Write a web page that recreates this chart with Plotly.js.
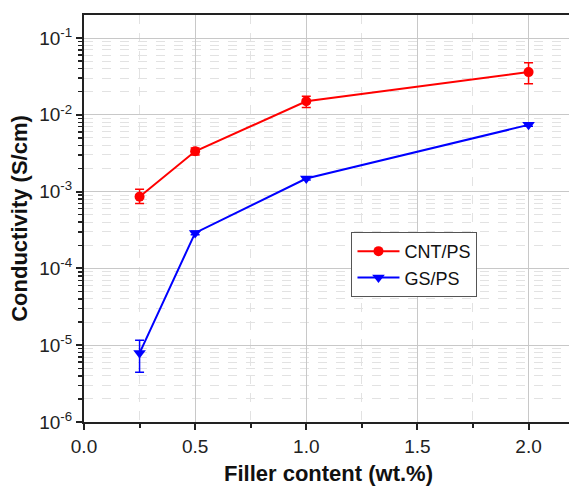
<!DOCTYPE html>
<html>
<head>
<meta charset="utf-8">
<script src="https://cdn.plot.ly/plotly-3.0.1.min.js"></script>
<style>
html,body{margin:0;padding:0;overflow:hidden;background:#fff;}
#chart{width:574px;height:488px;}
</style>
</head>
<body>
<div id="chart"></div>
<script>
// Data
const fillerContent = [0.25, 0.5, 1.0, 2.0];
const cntName = "CNT/PS";
const cntValues = [8.6e-4, 3.35e-3, 1.5e-2, 3.6e-2];
const cntErrPlus = [2.1e-4, 3.5e-4, 2.5e-3, 1.15e-2];
const cntErrMinus = [1.6e-4, 3.5e-4, 2.5e-3, 1.06e-2];
const gsName = "GS/PS";
const gsValues = [7.9e-6, 2.9e-4, 1.48e-3, 7.4e-3];
const gsErrPlus = [3.7e-6, 1.5e-5, 6e-5, 3e-4];
const gsErrMinus = [3.45e-6, 1.5e-5, 6e-5, 3e-4];
const yTickVals = [1e-6, 1e-5, 1e-4, 1e-3, 1e-2, 1e-1];
const yTickText = ["10<sup>-6</sup>", "10<sup>-5</sup>", "10<sup>-4</sup>", "10<sup>-3</sup>", "10<sup>-2</sup>", "10<sup>-1</sup>"];

const yMinorVals = [];
for (const d of [1e-6, 1e-5, 1e-4, 1e-3, 1e-2, 1e-1]) {
  for (let k = 2; k <= 9; k++) yMinorVals.push(k * d);
}

const font = "Liberation Sans, Arial, sans-serif";

const traces = [
  {
    x: fillerContent, y: cntValues, name: cntName, type: "scatter", mode: "lines+markers",
    line: {color: "#ff0000", width: 2},
    marker: {color: "#ff0000", symbol: "circle", size: 10},
    error_y: {type: "data", array: cntErrPlus, arrayminus: cntErrMinus, symmetric: false, color: "#ff0000", thickness: 1.5, width: 4.5}
  },
  {
    x: fillerContent, y: gsValues, name: gsName, type: "scatter", mode: "lines+markers",
    line: {color: "#0000ff", width: 2},
    marker: {color: "#0000ff", symbol: "triangle-down", size: 11},
    error_y: {type: "data", array: gsErrPlus, arrayminus: gsErrMinus, symmetric: false, color: "#0000ff", thickness: 1.5, width: 4.5}
  }
];

const layout = {
  width: 574, height: 488,
  margin: {l: 84, r: 1, t: 15, b: 66},
  paper_bgcolor: "#ffffff", plot_bgcolor: "#ffffff",
  font: {family: font, color: "#222", size: 19},
  showlegend: true,
  legend: {
    x: 0.547, y: 0.467, xanchor: "left", yanchor: "top",
    bgcolor: "#ffffff", bordercolor: "#555", borderwidth: 1,
    font: {family: font, size: 18, color: "#111"},
    tracegroupgap: 0, itemwidth: 42
  },
  xaxis: {
    range: [0, 2.2], dtick: 0.5, tick0: 0, tickformat: ".1f",
    showline: true, linecolor: "#222", linewidth: 2, mirror: true,
    ticks: "outside", ticklen: 6, tickwidth: 2, tickcolor: "#222",
    showgrid: true, gridcolor: "#c8c8c8", gridwidth: 1,
    zeroline: false,
    tickfont: {family: font, size: 19, color: "#222"},
    minor: {dtick: 0.25, tick0: 0, ticks: "outside", ticklen: 4, tickwidth: 2, tickcolor: "#222",
            showgrid: true, gridcolor: "#e2e2e2", griddash: "dash", gridwidth: 1},
    title: {text: "Filler content (wt.%)", font: {family: font, size: 22, color: "#111", weight: "bold"}, standoff: 10}
  },
  yaxis: {
    type: "log", range: [-6, -0.7],
    tickmode: "array", tickvals: yTickVals, ticktext: yTickText,
    showline: true, linecolor: "#222", linewidth: 2, mirror: true,
    ticks: "outside", ticklen: 6, tickwidth: 2, tickcolor: "#222",
    showgrid: true, gridcolor: "#c8c8c8", gridwidth: 1,
    zeroline: false,
    tickfont: {family: font, size: 19, color: "#222"},
    minor: {tickmode: "array", tickvals: yMinorVals, ticks: "outside", ticklen: 4, tickwidth: 1.5, tickcolor: "#222",
            showgrid: true, gridcolor: "#e2e2e2", griddash: "dash", gridwidth: 1},
    title: {text: "Conductivity (S/cm)", font: {family: font, size: 22, color: "#111", weight: "bold"}, standoff: 6}
  }
};

Plotly.newPlot("chart", traces, layout, {staticPlot: true, displayModeBar: false});
</script>
</body>
</html>
